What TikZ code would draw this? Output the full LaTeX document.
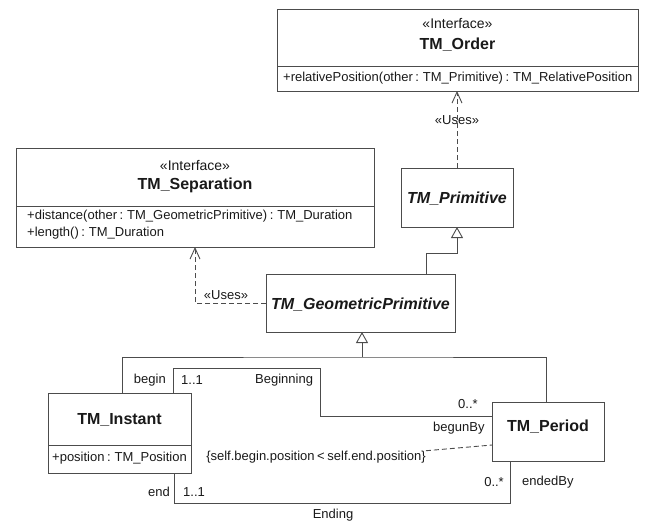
\documentclass[tikz,border=0pt]{standalone}
\usepackage{fontspec}
\setmainfont{Liberation Sans}
\usetikzlibrary{arrows.meta}
\newcommand\myregfont{\fontsize{13}{15}\selectfont\spaceskip 0.2em\relax}
\begin{document}
\begin{tikzpicture}[x=1pt,y=-1pt,
  box/.style={draw=black!70, line width=0.9pt, inner sep=0pt, outer sep=0pt},
  divider/.style={draw=black!70, line width=0.9pt},
  txt/.style={font=\myregfont, inner sep=0pt, text=black!90},
  sttxt/.style={font=\fontsize{14}{16}\selectfont, inner sep=0pt, text=black!90},
  ttl/.style={font=\fontsize{16}{18}\selectfont\bfseries, inner sep=0pt, text=black!90},
  ittl/.style={font=\fontsize{16}{18}\selectfont\bfseries\itshape, inner sep=0pt, text=black!90},
  dep/.style={draw=black!70, line width=0.9pt, dash pattern=on 5pt off 3pt, -{Straight Barb[length=11pt,width=10pt,line width=0.9pt]}},
  gen/.style={draw=black!70, line width=0.9pt, -{Triangle[open,length=11pt,width=12pt,fill=white,line width=0.9pt]}},
  assoc/.style={draw=black!70, line width=0.9pt},
  cdash/.style={draw=black!70, line width=0.9pt, dash pattern=on 5pt off 3pt}]
\useasboundingbox (0,0) rectangle (645,522);

% TM_Order
\node[box, minimum width=361pt, minimum height=82pt] (order) at (457.5,50) {};
\draw[divider] (order.west |- 0,66) -- (order.east |- 0,66);
\node[sttxt] (orderst) at (457.5,24) {«Interface»};
\node[ttl] (ordername) at (457.5,45) {TM\_Order};
\node[txt, anchor=west] (orderop) at (283,78) {+relativePosition(other : TM\_Primitive) : TM\_RelativePosition};

% TM_Separation
\node[box, minimum width=358pt, minimum height=99pt] (sep) at (195,197.5) {};
\draw[divider] (sep.west |- 0,206) -- (sep.east |- 0,206);
\node[sttxt] (sepst) at (195,166) {«Interface»};
\node[ttl] (sepname) at (195,185) {TM\_Separation};
\node[txt, anchor=west] (sepop1) at (27,216) {+distance(other : TM\_GeometricPrimitive) : TM\_Duration};
\node[txt, anchor=west] (sepop2) at (27,233) {+length() : TM\_Duration};

% TM_Primitive
\node[box, minimum width=112pt, minimum height=59pt] (prim) at (457,197.5) {};
\node[ittl] (primname) at (457,199) {TM\_Primitive};

% TM_GeometricPrimitive
\node[box, minimum width=189pt, minimum height=58pt] (geo) at (360.5,303) {};
\node[ittl] (geoname) at (360.5,305) {TM\_GeometricPrimitive};

% TM_Instant
\node[box, minimum width=143pt, minimum height=80pt] (inst) at (119.5,433) {};
\draw[divider] (inst.west |- 0,445) -- (inst.east |- 0,445);
\node[ttl] (instname) at (119.5,420) {TM\_Instant};
\node[txt, anchor=west] (instattr) at (52,458) {+position : TM\_Position};

% TM_Period
\node[box, minimum width=112pt, minimum height=59pt] (per) at (548,431.5) {};
\node[ttl] (pername) at (548,427) {TM\_Period};

% Uses dependencies
\draw[dep] (prim.north) -- (prim.north |- order.south);
\node[txt] (uses1) at (457,120) {«Uses»};
\draw[dep] (geo.west) -| (sep.south);
\node[txt] (uses2) at (226,295) {«Uses»};

% Generalizations
\draw[gen] (geo.north -| 426,0) -- ++(0,-21) -| (prim.south);
\coordinate (j) at (362,357);
\draw[assoc] (inst.north -| 122,0) |- (j) -| (per.north -| 546,0);
\draw[gen] (j) -- (j |- geo.south);

% Beginning association
\draw[assoc] (inst.north -| 173,0) |- (320,368) |- (per.west |- 0,416);
\node[txt, anchor=east] (lbegin) at (166,380) {begin};
\node[txt, anchor=west] (lbm) at (181,380) {1..1};
\node[txt, anchor=west] (lbeg) at (255,380) {Beginning};
\node[txt, anchor=west] (lbpm) at (458,404) {0..*};
\node[txt, anchor=west] (lbegby) at (433,428) {begunBy};

% Ending association
\draw[assoc] (inst.south -| 174,0) |- (510,503) -- (per.south -| 510,0);
\node[txt, anchor=east] (lend) at (170,492) {end};
\node[txt, anchor=west] (lem) at (183,492) {1..1};
\node[txt] (lending) at (333,515) {Ending};
\node[txt, anchor=east] (lepm) at (504,482) {0..*};
\node[txt, anchor=west] (lendby) at (522,482) {endedBy};

% Constraint
\node[txt] (cnstr) at (316,457) {\{self.begin.position < self.end.position\}};
\draw[cdash] (cnstr.north east) -- (per.west |- 0,445);
\end{tikzpicture}
\end{document}
